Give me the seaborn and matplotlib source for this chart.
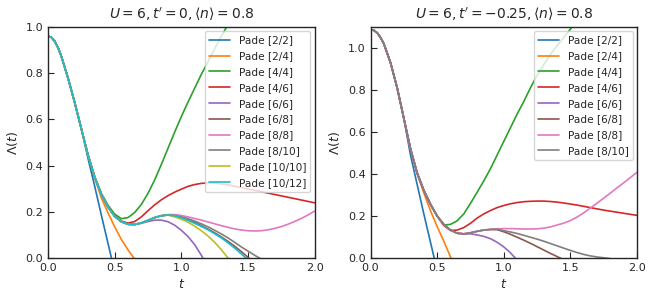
import numpy as np
import pandas as pd
import matplotlib
matplotlib.use("Agg")
import matplotlib.pyplot as plt
import seaborn as sns

# shared start of every curve (finer near the flat top), then tails every 0.05 from t=0.30
head_t = [0.0, 0.025, 0.05, 0.075, 0.1, 0.15, 0.2, 0.25]
tail_t0 = 0.30
t_step = 0.05

labels = ["Pade [2/2]", "Pade [2/4]", "Pade [4/4]", "Pade [4/6]", "Pade [6/6]",
          "Pade [6/8]", "Pade [8/8]", "Pade [8/10]", "Pade [10/10]", "Pade [10/12]"]

# left panel: U=6, t'=0
head_left = [0.96, 0.955, 0.938, 0.91, 0.872, 0.778, 0.672, 0.558]
common_left = [0.445, 0.35, 0.275, 0.22, 0.18, 0.157, 0.146, 0.145, 0.152, 0.163,
               0.175, 0.183, 0.186, 0.183]

left_22 = [0.43, 0.31, 0.185, 0.062, -0.06]
left_24 = [0.445, 0.345, 0.26, 0.195, 0.135, 0.08, 0.035, -0.005]
left_44 = [0.445, 0.35, 0.28, 0.228, 0.19, 0.17, 0.175, 0.197, 0.232, 0.28, 0.338, 0.405,
           0.475, 0.545, 0.612, 0.675, 0.735, 0.795, 0.85, 0.905, 0.96, 1.01, 1.07]
left_46 = [0.445, 0.35, 0.275, 0.22, 0.182, 0.16, 0.151, 0.158, 0.178, 0.205, 0.23,
           0.252, 0.27, 0.285, 0.298, 0.31, 0.318, 0.323, 0.325, 0.324, 0.321, 0.317,
           0.311, 0.305, 0.299, 0.293, 0.287, 0.281, 0.275, 0.269, 0.263, 0.257,
           0.251, 0.245, 0.239]
left_66 = common_left[:8] + [0.15, 0.158, 0.164, 0.164, 0.157, 0.142, 0.12, 0.093,
                             0.058, 0.012, -0.04]
left_68 = common_left + [0.176, 0.166, 0.154, 0.14, 0.125, 0.109, 0.091, 0.072,
                         0.051, 0.028, 0.003, -0.022]
left_88 = common_left[:12] + [0.188, 0.188, 0.184, 0.178, 0.171, 0.164, 0.156, 0.148,
                              0.14, 0.133, 0.126, 0.121, 0.118, 0.117, 0.118, 0.122,
                              0.128, 0.136, 0.146, 0.158, 0.171, 0.186, 0.203]
left_810 = common_left + [0.178, 0.17, 0.16, 0.148, 0.135, 0.12, 0.104, 0.087, 0.068,
                          0.048, 0.03, 0.012, -0.005]
left_1010 = common_left[:13] + [0.178, 0.168, 0.155, 0.138, 0.118, 0.095, 0.068,
                                0.036, 0.0, -0.035]
left_1012 = common_left + [0.174, 0.163, 0.15, 0.137, 0.122, 0.105, 0.087, 0.066,
                           0.043, 0.018, -0.008]

# right panel: U=6, t'=-0.25
head_right = [1.088, 1.084, 1.072, 1.05, 1.02, 0.93, 0.81, 0.665]
common_right = [0.52, 0.405, 0.322, 0.255, 0.2, 0.16, 0.133, 0.118, 0.115, 0.12,
                0.127, 0.133, 0.136, 0.137]

right_22 = [0.49, 0.35, 0.21, 0.075, -0.06]
right_24 = [0.515, 0.4, 0.31, 0.225, 0.15, 0.08, 0.005, -0.06]
right_44 = [0.52, 0.405, 0.322, 0.258, 0.2, 0.157, 0.16, 0.177, 0.21, 0.26, 0.313,
            0.367, 0.425, 0.49, 0.555, 0.62, 0.685, 0.745, 0.81, 0.87, 0.92, 0.97,
            1.01, 1.05, 1.09, 1.13]
right_46 = [0.52, 0.405, 0.322, 0.255, 0.2, 0.155, 0.131, 0.133, 0.145, 0.165, 0.19,
            0.21, 0.226, 0.24, 0.25, 0.258, 0.264, 0.268, 0.27, 0.271, 0.271, 0.269,
            0.266, 0.262, 0.257, 0.252, 0.246, 0.24, 0.234, 0.228, 0.223, 0.218,
            0.213, 0.208, 0.203]
right_66 = common_right[:9] + [0.115, 0.11, 0.103, 0.092, 0.075, 0.053, 0.025, -0.01]
right_68 = common_right[:13] + [0.135, 0.125, 0.113, 0.099, 0.085, 0.07, 0.054,
                                0.038, 0.022, 0.007, -0.008]
right_88 = common_right[:13] + [0.139, 0.14, 0.14, 0.139, 0.138, 0.138, 0.139, 0.142,
                                0.148, 0.157, 0.166, 0.178, 0.195, 0.215, 0.238,
                                0.261, 0.285, 0.309, 0.334, 0.358, 0.383, 0.408]
right_810 = common_right + [0.13, 0.124, 0.117, 0.108, 0.099, 0.09, 0.08, 0.069,
                            0.058, 0.047, 0.036, 0.026, 0.017, 0.01, 0.005, 0.001,
                            -0.003]

left_tails = [left_22, left_24, left_44, left_46, left_66, left_68, left_88,
              left_810, left_1010, left_1012]
right_tails = [right_22, right_24, right_44, right_46, right_66, right_68, right_88,
               right_810]


def build_frame(head, tails):
    rows = []
    for lab, tail in zip(labels, tails):
        ts = head_t + [round(tail_t0 + i * t_step, 4) for i in range(len(tail))]
        for t, v in zip(ts, head + tail):
            rows.append({"t": t, "val": v, "order": lab})
    return pd.DataFrame(rows)


sns.set_style("ticks")
plt.rcParams.update({
    "xtick.direction": "in", "ytick.direction": "in",
    "xtick.labelsize": 8, "ytick.labelsize": 8,
    "xtick.major.size": 4, "ytick.major.size": 4,
    "axes.linewidth": 1.0,
})
plt.rcParams["font.family"] = ["DejaVu Sans"]

palette = sns.color_palette("tab10", 10)

fig, axes = plt.subplots(1, 2, figsize=(6.5, 3.0), dpi=100)
fig.subplots_adjust(left=0.074, right=0.98, top=0.91, bottom=0.14, wspace=0.21)

panels = [
    (axes[0], build_frame(head_left, left_tails), 10, 1.0,
     r"$U=6, t'=0, \langle n\rangle=0.8$"),
    (axes[1], build_frame(head_right, right_tails), 8, 1.1,
     r"$U=6, t'=-0.25, \langle n\rangle=0.8$"),
]

for ax, df, n, ytop, title in panels:
    sns.lineplot(data=df, x="t", y="val", hue="order", hue_order=labels[:n],
                 palette=palette[:n], estimator=None, sort=False, linewidth=1.2,
                 ax=ax)
    ax.set_xlim(0, 2.0)
    ax.set_ylim(0, ytop)
    ax.set_xticks([0.0, 0.5, 1.0, 1.5, 2.0])
    ax.set_title(title, fontsize=10)
    ax.set_xlabel(r"$t$", fontsize=9)
    ax.set_ylabel(r"$\Lambda(t)$", fontsize=9)
    sns.move_legend(ax, "upper right", title=None, fontsize=7.6, frameon=True,
                    labelspacing=0.55, borderaxespad=0.4, handlelength=2.0)

plt.savefig("out.png", dpi=100)
